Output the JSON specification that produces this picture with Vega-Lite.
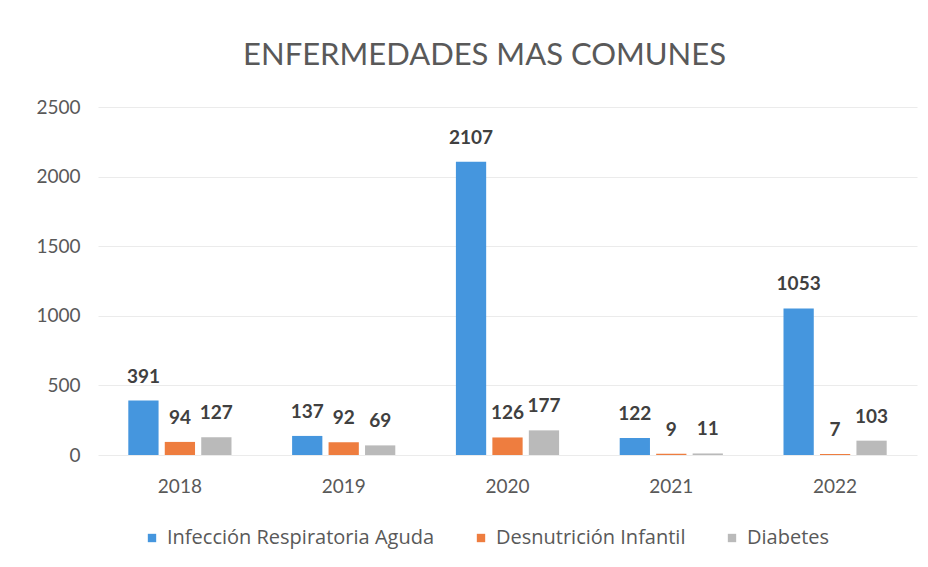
{
  "$schema": "https://vega.github.io/schema/vega-lite/v6.json",
  "width": 819,
  "height": 348,
  "autosize": {"type": "none"},
  "padding": {"left": 98, "top": 107, "right": 11, "bottom": 112},
  "background": "white",
  "title": {
    "text": "ENFERMEDADES MAS COMUNES",
    "anchor": "middle",
    "frame": "group",
    "dx": -23,
    "offset": 26,
    "font": "Lato",
    "fontSize": 31,
    "fontWeight": "normal",
    "color": "#595959"
  },
  "config": {
    "view": {"stroke": null},
    "font": "Lato"
  },
  "data": {
    "values": [
      {"anio": "2018", "enfermedad": "Infección Respiratoria Aguda", "casos": 391},
      {"anio": "2018", "enfermedad": "Desnutrición Infantil", "casos": 94},
      {"anio": "2018", "enfermedad": "Diabetes", "casos": 127},
      {"anio": "2019", "enfermedad": "Infección Respiratoria Aguda", "casos": 137},
      {"anio": "2019", "enfermedad": "Desnutrición Infantil", "casos": 92},
      {"anio": "2019", "enfermedad": "Diabetes", "casos": 69},
      {"anio": "2020", "enfermedad": "Infección Respiratoria Aguda", "casos": 2107},
      {"anio": "2020", "enfermedad": "Desnutrición Infantil", "casos": 126},
      {"anio": "2020", "enfermedad": "Diabetes", "casos": 177},
      {"anio": "2021", "enfermedad": "Infección Respiratoria Aguda", "casos": 122},
      {"anio": "2021", "enfermedad": "Desnutrición Infantil", "casos": 9},
      {"anio": "2021", "enfermedad": "Diabetes", "casos": 11},
      {"anio": "2022", "enfermedad": "Infección Respiratoria Aguda", "casos": 1053},
      {"anio": "2022", "enfermedad": "Desnutrición Infantil", "casos": 7},
      {"anio": "2022", "enfermedad": "Diabetes", "casos": 103}
    ]
  },
  "encoding": {
    "x": {
      "field": "anio",
      "type": "nominal",
      "scale": {"paddingInner": 0.37, "paddingOuter": 0.185},
      "axis": {
        "title": null,
        "labelAngle": 0,
        "labelFont": "Lato",
        "labelFontSize": 19,
        "labelColor": "#595959",
        "labelPadding": 22,
        "domain": false,
        "ticks": false,
        "grid": false
      }
    },
    "xOffset": {
      "field": "enfermedad",
      "type": "nominal",
      "sort": ["Infección Respiratoria Aguda", "Desnutrición Infantil", "Diabetes"],
      "scale": {"paddingInner": 0.17, "paddingOuter": 0}
    },
    "y": {
      "field": "casos",
      "type": "quantitative",
      "scale": {"domain": [0, 2500], "nice": false},
      "axis": {
        "title": null,
        "values": [0, 500, 1000, 1500, 2000, 2500],
        "format": "d",
        "labelFont": "Lato",
        "labelFontSize": 19,
        "labelColor": "#595959",
        "labelPadding": 18,
        "domain": false,
        "ticks": false,
        "grid": true,
        "gridColor": "#ebebeb",
        "gridWidth": 1
      }
    },
    "color": {
      "field": "enfermedad",
      "type": "nominal",
      "scale": {
        "domain": ["Infección Respiratoria Aguda", "Desnutrición Infantil", "Diabetes"],
        "range": ["#4596de", "#ee7d3f", "#bababa"]
      },
      "legend": {
        "title": null,
        "orient": "none",
        "direction": "horizontal",
        "legendX": 44,
        "legendY": 421,
        "symbolType": "square",
        "symbolSize": 70,
        "symbolStrokeWidth": 0,
        "labelFont": "Open Sans",
        "labelFontSize": 20,
        "labelColor": "#595959",
        "labelOffset": 5,
        "columnPadding": 36,
        "labelLimit": 400
      }
    }
  },
  "layer": [
    {"mark": {"type": "bar"}},
    {
      "mark": {
        "type": "text",
        "baseline": "alphabetic",
        "dy": -18,
        "font": "Lato",
        "fontSize": 19,
        "fontWeight": "bold",
        "color": "#404040"
      },
      "encoding": {
        "text": {"field": "casos", "type": "quantitative"},
        "color": {"value": "#404040"}
      }
    }
  ]
}
